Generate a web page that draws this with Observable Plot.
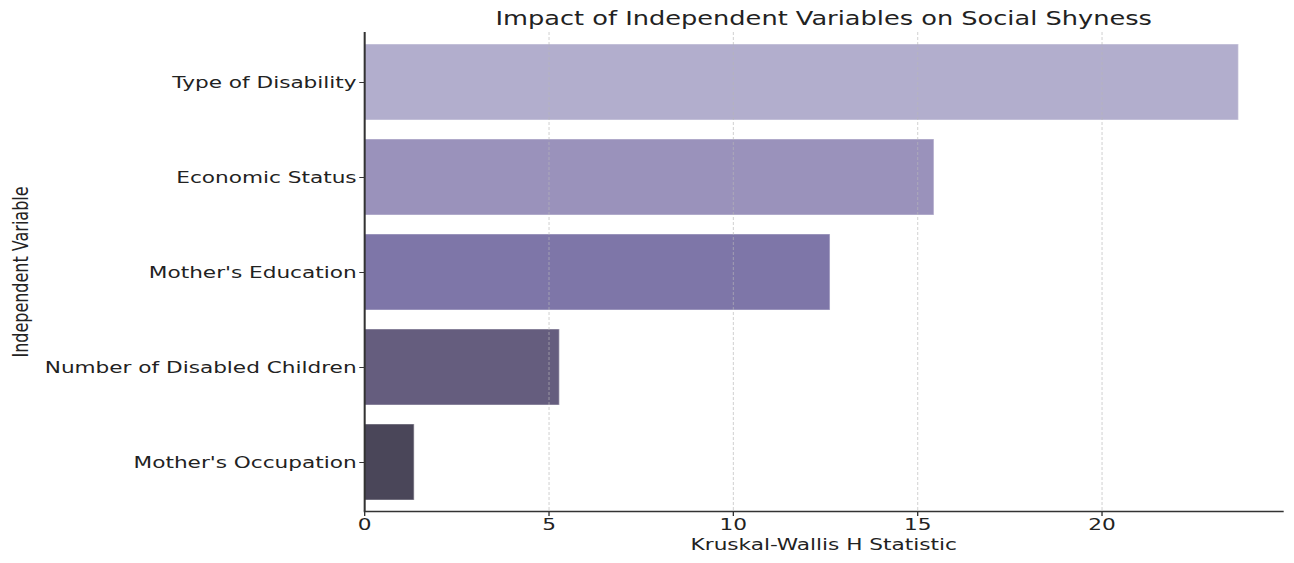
<!DOCTYPE html>
<html>
<head>
<meta charset="utf-8">
<script src="https://cdn.jsdelivr.net/npm/d3@7"></script>
<script src="https://cdn.jsdelivr.net/npm/@observablehq/plot@0.6"></script>
<style>
  html, body { margin: 0; padding: 0; background: #fff; }
  #chart svg { display: block; }
</style>
</head>
<body>
<div id="chart"></div>
<script>
const categories = ["Type of Disability", "Economic Status", "Mother's Education", "Number of Disabled Children", "Mother's Occupation"];
const hStatistic = [23.72, 15.46, 12.64, 5.30, 1.36];
const xTicks = [0, 5, 10, 15, 20];
const palette = ["#b2aecd", "#9a92bb", "#7e76a8", "#655d7e", "#4a4659"];
const titleText = "Impact of Independent Variables on Social Shyness";
const xLabel = "Kruskal-Wallis H Statistic";
const yLabel = "Independent Variable";

const rows = categories.map((c, i) => ({category: c, value: hStatistic[i]}));

// The reference is a horizontally stretched render; draw at base width, stretch via viewBox.
const outW = 1294, outH = 563;
const k = 1.3507;
const W = Math.round(outW / k);
const mL = 364 / k, mR = 12 / k;

const svg = Plot.plot({
  width: W,
  height: outH,
  marginLeft: mL,
  marginRight: mR,
  marginTop: 32,
  marginBottom: 52,
  style: {fontFamily: "DejaVu Sans", background: "#fff", color: "#222", overflow: "visible"},
  x: {domain: [0, 24.9]},
  y: {domain: categories, paddingInner: 0.2, paddingOuter: 0.1},
  color: {domain: categories, range: palette},
  marks: [
    Plot.barX(rows, {x: "value", y: "category", fill: "category", stroke: "#ffffff", strokeOpacity: 0.45, strokeWidth: 1}),
    Plot.gridX(xTicks.filter(d => d > 0), {stroke: "#b8b8b8", strokeOpacity: 0.6, strokeDasharray: "3,2", strokeWidth: 0.8}),
    Plot.axisX(xTicks, {tickSize: 5, tickPadding: 2, fontSize: 16, label: null, stroke: "#333"}),
    Plot.axisY({tickSize: 3.5, tickPadding: 2.5, fontSize: 16, label: null, stroke: "#333"}),
    Plot.ruleX([0], {stroke: "#333", strokeWidth: 1.5}),
    Plot.frame({anchor: "bottom", stroke: "#333", strokeWidth: 1.5}),
    Plot.text([titleText], {frameAnchor: "top", dy: -14, lineAnchor: "middle", fontSize: 19, fill: "#222"}),
    Plot.text([xLabel], {frameAnchor: "bottom", dy: 33, lineAnchor: "middle", fontSize: 16, fill: "#222"}),
    Plot.text([yLabel], {frameAnchor: "left", textAnchor: "middle", dx: -(mL - 20 / k), rotate: -90, lineAnchor: "middle", fontSize: 16, fill: "#222"})
  ]
});

svg.setAttribute("width", outW);
svg.setAttribute("height", outH);
svg.setAttribute("preserveAspectRatio", "none");
svg.style.width = outW + "px";
svg.style.height = outH + "px";
svg.style.maxWidth = "none";
document.getElementById("chart").appendChild(svg);
</script>
</body>
</html>
